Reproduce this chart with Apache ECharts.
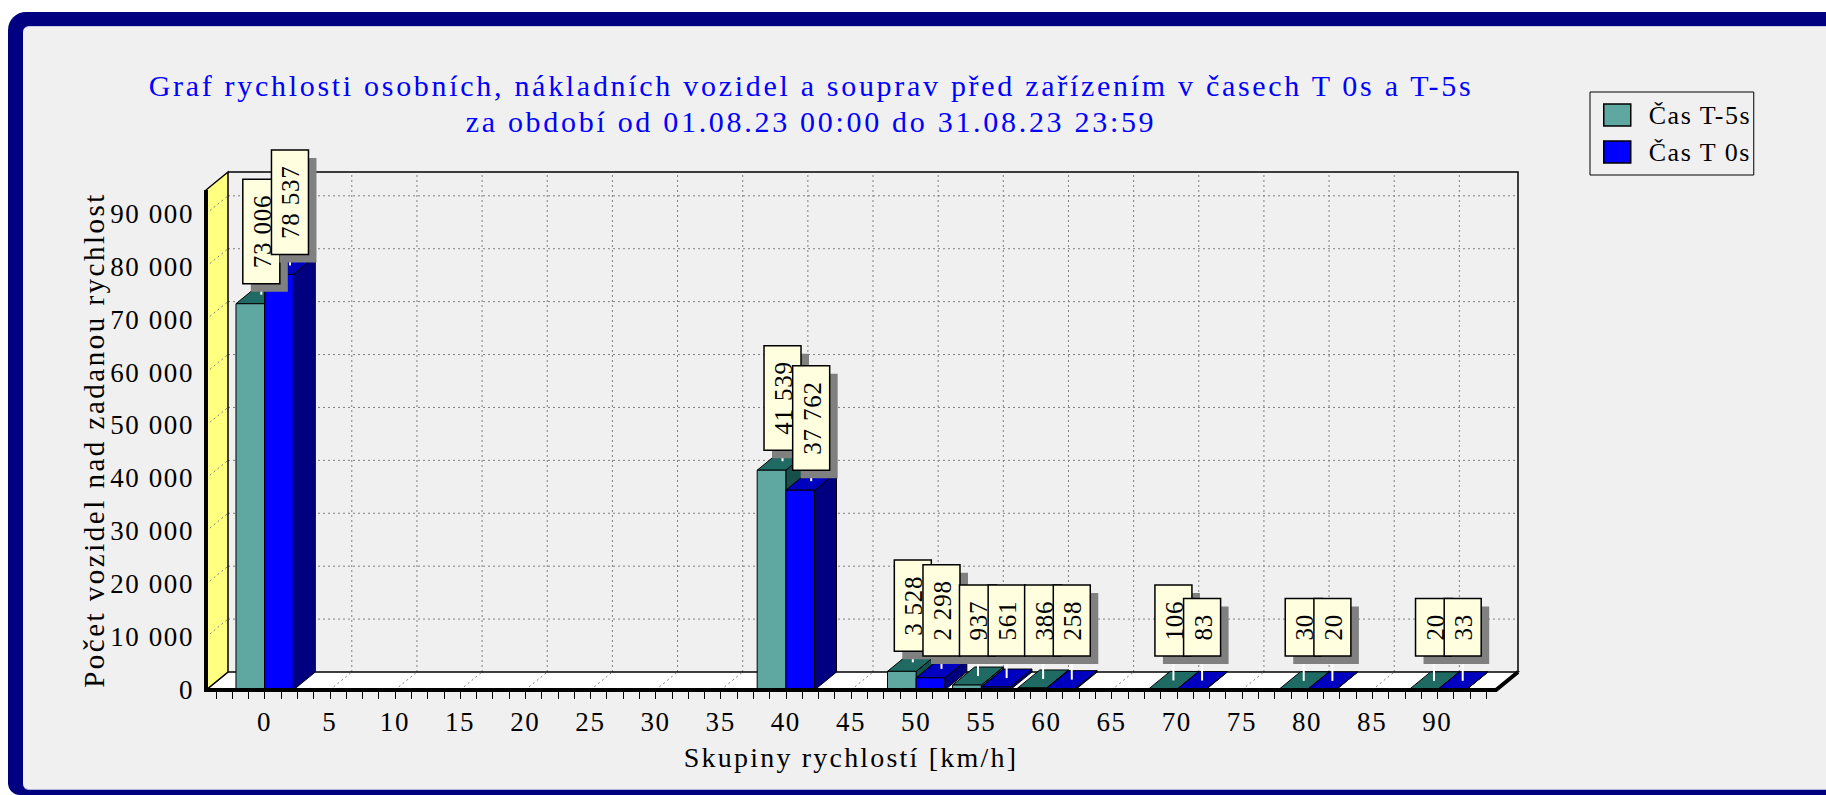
<!DOCTYPE html>
<html><head><meta charset="utf-8">
<script src="https://cdn.jsdelivr.net/npm/echarts@6.0.0/dist/echarts.min.js"></script>
<style>
html,body{margin:0;padding:0;width:1826px;height:795px;overflow:hidden;background:#fff;}
#outer{position:absolute;left:8px;top:12px;width:1900px;height:783px;background:#000080;border-radius:18px 0 0 12px;}
#inner{position:absolute;left:23px;top:26px;width:1900px;height:764px;background:#f0f0f0;border-radius:6px 0 0 6px;border-top:1px solid #c8c8e0;border-bottom:1px solid #b0b0dc;box-sizing:border-box;}
#chart{position:absolute;left:0;top:0;width:1826px;height:795px;}
#chart svg text{letter-spacing:1.5px;}
#chart svg text[style*="30px"]{letter-spacing:2.7px;}
#chart svg text[style*="29px"]{letter-spacing:2.5px;}
#chart svg text[style*="28px"]{letter-spacing:2.2px;}
#chart svg text[style*="27px"]{letter-spacing:1.6px;}
#chart svg text[style*="26px"]{letter-spacing:1.5px;}
#chart svg text[style*="25px"]{letter-spacing:0.8px;}
</style></head><body>
<div id="outer"></div><div id="inner"></div><div id="chart"></div>
<script>
// ---- data ----
const titleLine1 = 'Graf rychlosti osobních, nákladních vozidel a souprav před zařízením v časech T 0s a T-5s';
const titleLine2 = 'za období od 01.08.23 00:00 do 31.08.23 23:59';
const xAxisName = 'Skupiny rychlostí [km/h]';
const yAxisName = 'Počet vozidel nad zadanou rychlost';
const seriesNames = ['Čas T-5s', 'Čas T 0s'];
const speedGroups = [0,5,10,15,20,25,30,35,40,45,50,55,60,65,70,75,80,85,90];
const barGroups = [0,40,50,55,60,70,80,90];
const valuesT5 = [73006, 41539, 3528, 937, 386, 106, 30, 20];
const valuesT0 = [78537, 37762, 2298, 561, 258, 83, 20, 33];
const yTickLabels = [0,10000,20000,30000,40000,50000,60000,70000,80000,90000];
const yMinorTicks = [0,2000,4000,6000,8000,10000,12000,14000,16000,18000,20000,22000,24000,26000,28000,30000,32000,34000,36000,38000,40000,42000,44000,46000,48000,50000,52000,54000,56000,58000,60000,62000,64000,66000,68000,70000,72000,74000,76000,78000,80000,82000,84000,86000,88000,90000,92000,94000];
const xMinorTicks = [];
for (let t = -3.75; t <= 93.76; t += 1.25) xMinorTicks.push(Math.round(t*100)/100);

// ---- style constants ----
const SERIF = "'Liberation Serif', 'Times New Roman', serif";
const X_MIN = -4.5, X_MAX = 94.5, Y_MAX = 94500;
const DX = 22, DY = 18;
const BAR_UNITS = 2.2;
const LABEL_FONT = 25, LABEL_SPACING = 0.8;
const COLORS = [
  {front:'#5fa8a2', top:'#1f6b64', side:'#174f4a'},
  {front:'#0000ff', top:'#0000c0', side:'#000080'}
];
const fmt = v => String(v).replace(/\B(?=(\d{3})+(?!\d))/g, ' ');
const mctx = document.createElement('canvas').getContext('2d');
mctx.font = LABEL_FONT + 'px "Liberation Serif"';
const textLen = s => mctx.measureText(s).width + s.length * LABEL_SPACING;

const barData = [
  barGroups.map((x, i) => [x, valuesT5[i]]),
  barGroups.map((x, i) => [x, valuesT0[i]])
];
const labelData = [];
barGroups.forEach((x, i) => { labelData.push([x, valuesT5[i], 0]); labelData.push([x, valuesT0[i], 1]); });

const dotted = {stroke:'#808080', lineWidth:1, lineDash:[2,3]};

function frameRender(params, api) {
  const p = (x, y) => api.coord([x, y]);
  const xl = p(X_MIN, 0)[0], xr = p(X_MAX, 0)[0];
  const y0 = p(X_MIN, 0)[1], yt = p(X_MIN, Y_MAX)[1];
  const ch = [];
  ch.push({type:'polygon', shape:{points:[[xl+DX,y0-DY],[xr+DX,y0-DY],[xr+DX,yt-DY],[xl+DX,yt-DY]]}, style:{fill:'#f0f0f0'}});
  yTickLabels.forEach(v => { if (!v) return; const y = p(X_MIN, v)[1] - DY;
    ch.push({type:'line', shape:{x1:xl+DX, y1:y, x2:xr+DX, y2:y}, style:dotted}); });
  speedGroups.forEach(s => { const x = p(s, 0)[0] + DX;
    ch.push({type:'line', shape:{x1:x, y1:y0-DY, x2:x, y2:yt-DY}, style:dotted}); });
  ch.push({type:'polyline', shape:{points:[[xl+DX,yt-DY],[xr+DX,yt-DY],[xr+DX,y0-DY]]}, style:{stroke:'#000', lineWidth:1.5, fill:null}});
  ch.push({type:'polygon', shape:{points:[[xl,y0],[xr,y0],[xr+DX,y0-DY],[xl+DX,y0-DY]]}, style:{fill:'#ffffff', stroke:'#000', lineWidth:1.5}});
  speedGroups.forEach(s => { const x = p(s, 0)[0];
    ch.push({type:'line', shape:{x1:x, y1:y0, x2:x+DX, y2:y0-DY}, style:dotted}); });
  ch.push({type:'polygon', shape:{points:[[xl,y0],[xl,yt],[xl+DX,yt-DY],[xl+DX,y0-DY]]}, style:{fill:'#ffff80', stroke:'#000', lineWidth:1.5}});
  yTickLabels.forEach(v => { if (!v) return; const y = p(X_MIN, v)[1];
    ch.push({type:'line', shape:{x1:xl, y1:y, x2:xl+DX, y2:y-DY}, style:dotted}); });
  return {type:'group', children:ch};
}

function edgeRender(params, api) {
  const p = (x, y) => api.coord([x, y]);
  const xl = p(X_MIN, 0)[0], xr = p(X_MAX, 0)[0];
  const y0 = p(X_MIN, 0)[1], yt = p(X_MIN, Y_MAX)[1];
  return {type:'polyline', shape:{points:[[xl,yt],[xl,y0],[xr,y0],[xr+DX,y0-DY]]}, style:{stroke:'#000', lineWidth:4, fill:null, lineJoin:'miter'}};
}

function barRender(sIdx) {
  const c = COLORS[sIdx];
  return function (params, api) {
    const x = api.value(0), v = api.value(1);
    const w = api.size([BAR_UNITS, 0])[0];
    const base = api.coord([x, 0]), top = api.coord([x, v]);
    const x0 = sIdx === 0 ? base[0] - w : base[0], x1 = x0 + w;
    const yb = base[1], ytp = top[1];
    return {type:'group', children:[
      {type:'polygon', shape:{points:[[x1,yb],[x1+DX,yb-DY],[x1+DX,ytp-DY],[x1,ytp]]}, style:{fill:c.side, stroke:'#000', lineWidth:1}},
      {type:'polygon', shape:{points:[[x0,ytp],[x1,ytp],[x1+DX,ytp-DY],[x0+DX,ytp-DY]]}, style:{fill:c.top, stroke:'#000', lineWidth:1}},
      {type:'rect', shape:{x:x0, y:ytp, width:w, height:Math.max(yb-ytp,0)}, style:{fill:c.front, stroke:'#000', lineWidth:1}}
    ]};
  };
}

function labelRender(params, api) {
  const x = api.value(0), v = api.value(1), s = api.value(2);
  const w = api.size([BAR_UNITS, 0])[0];
  const base = api.coord([x, 0]), top = api.coord([x, v]);
  const x0 = s === 0 ? base[0] - w : base[0];
  const cx = x0 + w/2 + DX/2, cy = top[1] - DY/2;
  const txt = fmt(v);
  const bh = textLen(txt) + 31, bw = 37;
  const bottom = Math.min(cy - 11, base[1] - DY - 16);
  const bx = cx - bw/2, by = bottom - bh;
  return {type:'group', children:[
    {type:'line', shape:{x1:cx, y1:cy, x2:cx, y2:bottom}, style:{stroke:'#ffffff', lineWidth:2}},
    {type:'rect', shape:{x:bx+8, y:by+8, width:bw, height:bh}, style:{fill:'#808080'}},
    {type:'rect', shape:{x:bx, y:by, width:bw, height:bh}, style:{fill:'#ffffe0', stroke:'#000', lineWidth:1.5}},
    {type:'text', x:cx + 1, y:by + bh/2, rotation:Math.PI/2,
      style:{text:txt, fill:'#000', font:LABEL_FONT + 'px "Liberation Serif"', align:'center', verticalAlign:'middle'}}
  ]};
}

const chart = echarts.init(document.getElementById('chart'), null, {renderer:'svg'});
chart.setOption({
  animation:false,
  backgroundColor:'transparent',
  title:[
    {text:titleLine1, left:806, top:65, textAlign:'center', textStyle:{fontFamily:SERIF, fontSize:30, fontWeight:'normal', color:'#0000ff'}},
    {text:titleLine2, left:806, top:101, textAlign:'center', textStyle:{fontFamily:SERIF, fontSize:30, fontWeight:'normal', color:'#0000ff'}}
  ],
  legend:{
    orient:'vertical', left:1590, top:92, padding:[10,14,10,13], itemGap:11, itemWidth:27, itemHeight:22,
    icon:'rect', borderColor:'#000', borderWidth:1, backgroundColor:'#f0f0f0',
    textStyle:{fontFamily:SERIF, fontSize:26, color:'#000', width:105, padding:[0,0,0,13]},
    data:[
      {name:seriesNames[0], itemStyle:{color:COLORS[0].front, borderColor:'#000', borderWidth:1.5}},
      {name:seriesNames[1], itemStyle:{color:COLORS[1].front, borderColor:'#000', borderWidth:1.5}}
    ]
  },
  grid:{left:206, right:330, top:190, bottom:105, containLabel:false},
  xAxis:{
    type:'value', min:X_MIN, max:X_MAX,
    axisLine:{show:false},
    axisTick:{show:true, customValues:xMinorTicks, length:9, lineStyle:{color:'#000', width:1}},
    axisLabel:{customValues:speedGroups, margin:18, fontFamily:SERIF, fontSize:27, color:'#000'},
    splitLine:{show:false},
    name:xAxisName, nameLocation:'middle', nameGap:53,
    nameTextStyle:{fontFamily:SERIF, fontSize:28, color:'#000'}
  },
  yAxis:{
    type:'value', min:0, max:Y_MAX,
    axisLine:{show:false},
    axisTick:{show:true, customValues:yMinorTicks, length:8, lineStyle:{color:'#000', width:1}},
    axisLabel:{customValues:yTickLabels, formatter:v => fmt(v), margin:12, fontFamily:SERIF, fontSize:27, color:'#000'},
    splitLine:{show:false},
    name:yAxisName, nameLocation:'middle', nameGap:96, nameRotate:90,
    nameTextStyle:{fontFamily:SERIF, fontSize:29, color:'#000'}
  },
  series:[
    {type:'custom', name:'frame', silent:true, z:1, data:[[0,0]], renderItem:frameRender},
    {type:'custom', name:seriesNames[0], z:2, data:barData[0], renderItem:barRender(0), itemStyle:{color:COLORS[0].front}},
    {type:'custom', name:seriesNames[1], z:2, data:barData[1], renderItem:barRender(1), itemStyle:{color:COLORS[1].front}},
    {type:'custom', name:'labels', silent:true, z:3, data:labelData, renderItem:labelRender},
    {type:'custom', name:'edge', silent:true, z:4, data:[[0,0]], renderItem:edgeRender}
  ]
});
</script></body></html>
